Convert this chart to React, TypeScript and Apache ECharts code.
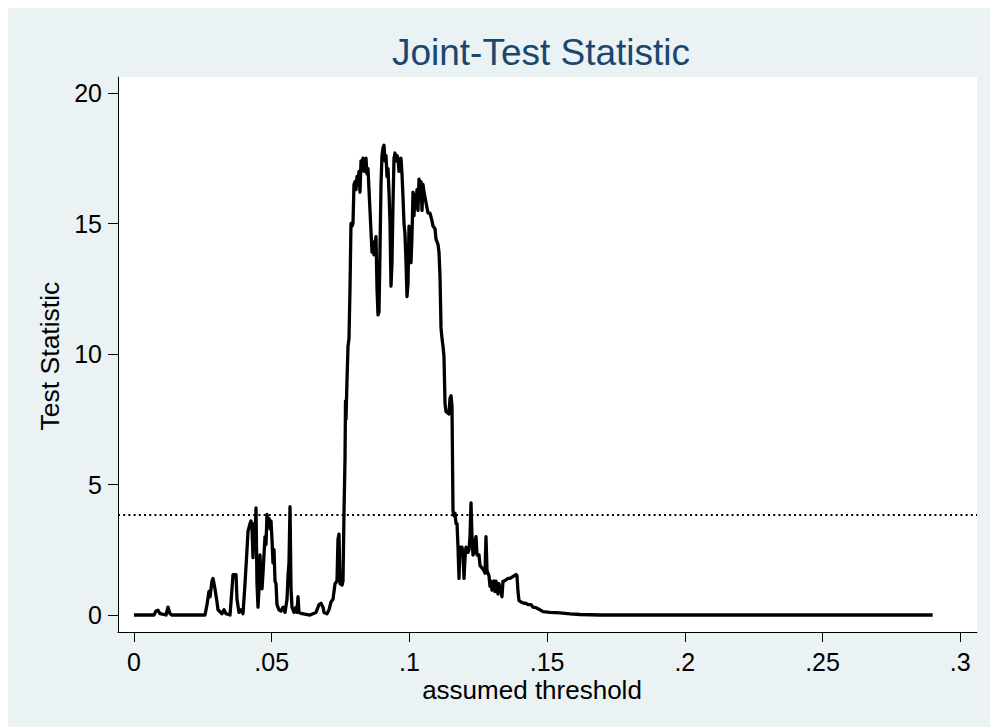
import React, { useEffect, useRef } from "react";
import * as echarts from "echarts";

// assumed threshold values (x) and joint test statistic (y)
const threshold = [
  0, 0.00726, 0.00799, 0.00871, 0.00944, 0.01162, 0.01235, 0.01307, 0.0138,
  0.02578, 0.02651, 0.02723, 0.0276, 0.02832, 0.02869, 0.02941, 0.03014, 0.0305,
  0.03195, 0.03268, 0.03341, 0.03486, 0.03558, 0.03595, 0.03704, 0.0374, 0.03813,
  0.03885, 0.03958, 0.04031, 0.04103, 0.04139, 0.04212, 0.04248, 0.04285, 0.04321,
  0.04357, 0.04394, 0.0443, 0.04466, 0.04503, 0.04539, 0.04575, 0.04611, 0.04648,
  0.04684, 0.04757, 0.04793, 0.04829, 0.04866, 0.04902, 0.04938, 0.04975, 0.05011,
  0.05047, 0.05084, 0.0512, 0.05156, 0.05192, 0.05265, 0.05338, 0.0541, 0.05483,
  0.05556, 0.05592, 0.05628, 0.05665, 0.05701, 0.05737, 0.0581, 0.05882, 0.05919,
  0.05955, 0.05991, 0.061, 0.06391, 0.06609, 0.06718, 0.0679, 0.06863, 0.06899,
  0.07008, 0.07081, 0.07153, 0.07226, 0.07299, 0.07371, 0.07407, 0.07444, 0.0748,
  0.07553, 0.07589, 0.07625, 0.07662, 0.0768, 0.07698, 0.07734, 0.07771, 0.07807,
  0.07843, 0.07879, 0.07916, 0.07952, 0.07988, 0.08025, 0.08061, 0.08097, 0.08134,
  0.0817, 0.08206, 0.08243, 0.08279, 0.08315, 0.08352, 0.08388, 0.08424, 0.0846,
  0.08497, 0.08533, 0.08569, 0.08642, 0.08678, 0.08715, 0.08751, 0.08787, 0.08824,
  0.0886, 0.08896, 0.08933, 0.08969, 0.09005, 0.09041, 0.09078, 0.09114, 0.0915,
  0.09187, 0.09223, 0.09259, 0.09296, 0.09332, 0.09368, 0.09405, 0.09441, 0.09477,
  0.09513, 0.0955, 0.09586, 0.09622, 0.09659, 0.09695, 0.09731, 0.09768, 0.09804,
  0.0984, 0.09877, 0.09913, 0.09949, 0.09986, 0.10022, 0.10058, 0.10094, 0.10131,
  0.10167, 0.10203, 0.1024, 0.10276, 0.10312, 0.10349, 0.10385, 0.10421, 0.10458,
  0.10494, 0.1053, 0.10567, 0.10603, 0.10675, 0.10748, 0.10821, 0.10857, 0.1093,
  0.10966, 0.11039, 0.11075, 0.11111, 0.11148, 0.11184, 0.1122, 0.11256, 0.11293,
  0.11329, 0.11438, 0.11474, 0.11511, 0.11547, 0.11583, 0.1162, 0.11656, 0.11692,
  0.11729, 0.11765, 0.11801, 0.11837, 0.11874, 0.1191, 0.11946, 0.11983, 0.12019,
  0.12055, 0.12128, 0.12164, 0.122, 0.12237, 0.12273, 0.12309, 0.12346, 0.12382,
  0.12418, 0.12455, 0.12527, 0.12564, 0.12636, 0.12709, 0.12745, 0.12781, 0.12818,
  0.1289, 0.12927, 0.12963, 0.12999, 0.13036, 0.13072, 0.13108, 0.13145, 0.13181,
  0.13217, 0.13254, 0.1329, 0.13326, 0.13362, 0.13399, 0.13435, 0.13508, 0.1358,
  0.13653, 0.13726, 0.13798, 0.13871, 0.13907, 0.13943, 0.1398, 0.14052, 0.14161,
  0.14234, 0.14307, 0.14415, 0.14488, 0.14597, 0.14742, 0.14851, 0.15105, 0.15468,
  0.15832, 0.16195, 0.16558, 0.16921, 0.29,
];

const statistic = [
  0, 0, 0.15, 0.18, 0.05, 0, 0.3, 0.05, 0,
  0, 0.4, 0.9, 0.7, 1.3, 1.4, 1.0, 0.5, 0.2,
  0.05, 0.2, 0.05, 0, 1.0, 1.55, 1.55, 0.6, 0.1,
  0.2, 0.05, 1.2, 2.5, 3.2, 3.5, 3.6, 3.3, 2.2,
  3.5, 2.8, 4.1, 1.2, 0.3, 1.0, 2.3, 1.3, 1.0,
  1.6, 3.0, 2.7, 3.85, 3.4, 3.7, 3.3, 3.6, 2.9,
  2.0, 2.5, 1.3, 1.2, 0.4, 0.2, 0.15, 0.3, 0.1,
  0.6, 1.5, 2.0, 4.15, 1.0, 0.3, 0.1, 0.3, 0.1,
  0.7, 0.1, 0.05, 0, 0.1, 0.4, 0.45, 0.3, 0.1,
  0.05, 0.2, 0.5, 0.6, 1.2, 1.3, 2.9, 3.1, 1.2,
  1.15, 1.3, 3.9, 6.0, 8.2, 7.5, 9.0, 10.3, 10.6,
  12.5, 15.0, 14.9, 15.0, 16.5, 16.6, 16.3, 16.8, 16.5,
  17.0, 16.2, 17.4, 17.2, 17.5, 17.0, 17.1, 17.5, 16.9,
  17.1, 16.3, 15.5, 13.9, 14.3, 13.8, 14.2, 14.5, 12.5,
  11.5, 11.6, 14.0, 16.5, 17.6, 17.9, 18.0, 17.4, 17.6,
  16.8, 17.1, 16.2, 15.0, 12.6, 13.5, 15.8, 17.5, 17.7,
  17.4, 17.6, 17.5, 17.0, 17.3, 17.5, 16.9, 16.0, 15.0,
  14.6, 13.5, 12.2, 12.7, 14.9, 14.8, 13.5, 14.5, 16.2,
  15.3, 16.1, 15.6, 16.3, 15.5, 16.7, 16.5, 16.6, 15.5,
  16.5, 16.2, 16.0, 15.8, 15.4, 15.4, 15.1, 14.9, 14.8,
  14.4, 14.2, 13.9, 13.0, 11.0, 10.6, 10.3, 9.9, 8.1,
  7.8, 7.7, 8.3, 8.4, 8.0, 4.0, 3.8, 3.9, 3.5,
  3.5, 2.6, 1.4, 2.6, 2.4, 2.6, 2.3, 1.4, 2.2,
  2.6, 2.4, 2.5, 3.0, 4.3, 3.0, 2.3, 2.4, 2.8,
  3.0, 2.3, 2.3, 1.9, 1.8, 1.7, 1.6, 3.0, 1.7,
  1.5, 1.1, 1.3, 0.95, 1.2, 1.3, 0.9, 1.3, 1.1,
  0.8, 1.2, 1.0, 0.9, 0.7, 1.3, 1.3, 1.35, 1.4,
  1.4, 1.45, 1.5, 1.55, 1.5, 0.9, 0.55, 0.5, 0.45,
  0.45, 0.4, 0.4, 0.3, 0.28, 0.2, 0.13, 0.1, 0.08,
  0.04, 0.02, 0.01, 0, 0,
];

const xTicks = [0, 0.05, 0.1, 0.15, 0.2, 0.25, 0.3];
const xTickLabels = ["0", ".05", ".1", ".15", ".2", ".25", ".3"];
const yTicks = [0, 5, 10, 15, 20];
const yTickLabels = ["0", "5", "10", "15", "20"];
const criticalValue = 3.84;
const titleText = "Joint-Test Statistic";
const xTitleText = "assumed threshold";
const yTitleText = "Test Statistic";

const FONT = "'Liberation Sans', Arial, Helvetica, sans-serif";

function nearestLabel(v: number, ticks: number[], labels: string[]) {
  let best = 0;
  for (let i = 1; i < ticks.length; i++) {
    if (Math.abs(ticks[i] - v) < Math.abs(ticks[best] - v)) best = i;
  }
  return labels[best];
}

export default function App() {
  const ref = useRef<HTMLDivElement>(null);

  useEffect(() => {
    if (!ref.current) return;
    const chart = echarts.init(ref.current, undefined, { renderer: "svg" });
    const data = threshold.map((t, i) => [t, statistic[i]]);

    const option: any = {
      animation: false,
      backgroundColor: "#EAF2F3",
      grid: {
        left: 110,
        right: 13,
        top: 69,
        bottom: 95,
        show: true,
        backgroundColor: "#FFFFFF",
        borderWidth: 0,
      },
      xAxis: {
        type: "value",
        min: -0.00581,
        max: 0.3061,
        axisLine: { show: true, onZero: false, lineStyle: { color: "#000", width: 1 } },
        axisTick: { show: true, customValues: xTicks, length: 10, lineStyle: { color: "#000", width: 1 } },
        axisLabel: {
          customValues: xTicks,
          formatter: (v: number) => nearestLabel(v, xTicks, xTickLabels),
          margin: 17,
          fontSize: 25,
          color: "#000",
          fontFamily: FONT,
        },
        splitLine: { show: false },
      },
      yAxis: {
        type: "value",
        min: -0.651,
        max: 20.613,
        axisLine: { show: true, onZero: false, lineStyle: { color: "#000", width: 1 } },
        axisTick: { show: true, customValues: yTicks, length: 10, lineStyle: { color: "#000", width: 1 } },
        axisLabel: {
          customValues: yTicks,
          formatter: (v: number) => nearestLabel(v, yTicks, yTickLabels),
          margin: 16,
          fontSize: 25,
          color: "#000",
          fontFamily: FONT,
        },
        splitLine: { show: false },
      },
      series: [
        {
          type: "line",
          data,
          showSymbol: false,
          symbol: "none",
          lineStyle: { color: "#000", width: 3.3, join: "round" },
          markLine: {
            silent: true,
            symbol: "none",
            label: { show: false },
            lineStyle: { color: "#000", type: [2, 3.2], width: 2 },
            data: [{ yAxis: criticalValue }],
          },
        },
      ],
      graphic: [
        {
          type: "text",
          x: 533,
          y: 44,
          style: {
            text: titleText,
            fill: "#1A476F",
            fontSize: 37,
            fontFamily: FONT,
            textAlign: "center",
            textVerticalAlign: "middle",
          },
        },
        {
          type: "text",
          x: 524,
          y: 682,
          style: {
            text: xTitleText,
            fill: "#000",
            fontSize: 26,
            fontFamily: FONT,
            textAlign: "center",
            textVerticalAlign: "middle",
          },
        },
        {
          type: "text",
          x: 42,
          y: 348,
          rotation: Math.PI / 2,
          style: {
            text: yTitleText,
            fill: "#000",
            fontSize: 26.5,
            fontFamily: FONT,
            textAlign: "center",
            textVerticalAlign: "middle",
          },
        },
      ],
    };

    chart.setOption(option);
    return () => chart.dispose();
  }, []);

  return (
    <div
      ref={ref}
      style={{ position: "fixed", left: 8, top: 8, width: 982, height: 719 }}
    />
  );
}
